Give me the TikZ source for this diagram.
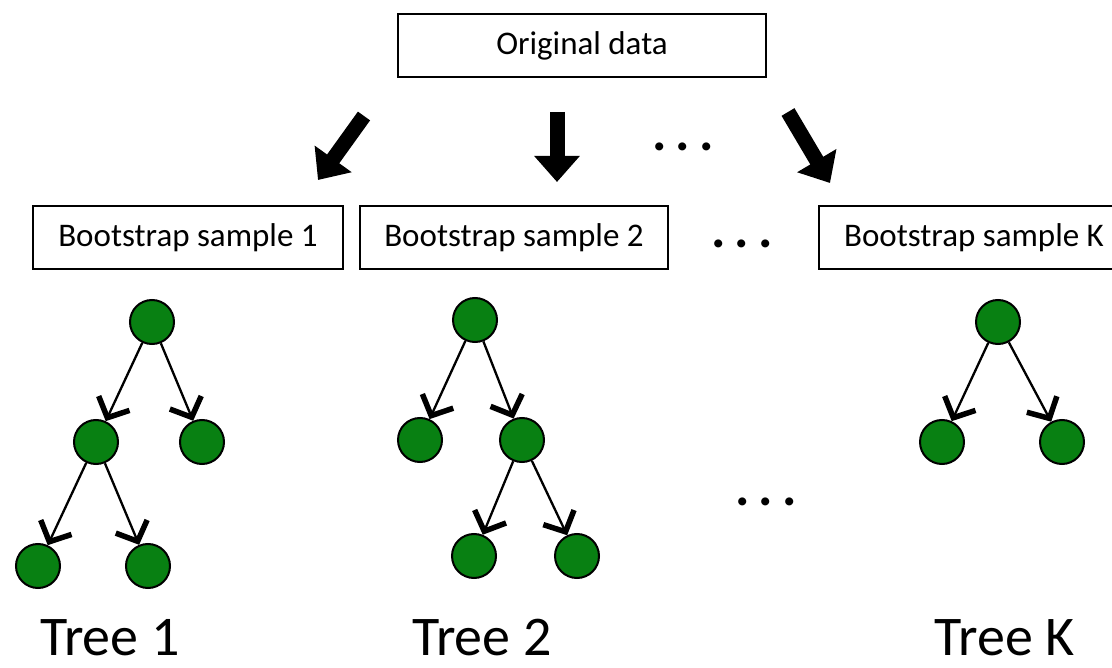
\documentclass[tikz,border=0pt]{standalone}
\usepackage{fontspec}
\setmainfont{Carlito}
\usetikzlibrary{arrows.meta}
\definecolor{nodegreen}{RGB}{8,128,18}
\tikzset{
  databox/.style={draw=black, line width=2pt, minimum height=63pt, inner sep=0pt, font=\fontsize{33}{38}\selectfont},
  tnode/.style={circle, draw=black, line width=2pt, fill=nodegreen, minimum size=44pt, inner sep=0pt},
  tedge/.style={line width=2.3pt, -{Straight Barb[length=16pt, width=34pt, line width=5.5pt]}},
  bigarrow/.style={line width=15pt, -{Triangle[length=26pt, width=44pt]}},
  dots/.style={font=\fontsize{54}{54}\selectfont\bfseries, inner sep=0pt},
  treelabel/.style={font=\fontsize{56}{60}\selectfont, inner sep=0pt, anchor=base}
}
\begin{document}
\begin{tikzpicture}[x=1pt, y=-1pt]
\useasboundingbox (0,0) rectangle (1112,668);
% boxes
\node[databox, minimum width=368pt] (orig) at (582,46) {Original data};
\node[databox, minimum width=310pt] (b1) at (188,237.5) {Bootstrap sample 1};
\node[databox, minimum width=308pt] (b2) at (514,237.5) {Bootstrap sample 2};
\node[databox, minimum width=294pt, anchor=west] (bk) at (818,237.5) {\hspace*{16pt}Bootstrap sample K};
% big arrows
\coordinate (a1s) at (364,116); \coordinate (a1e) at (318,180);
\coordinate (a2s) at (557,112); \coordinate (a2e) at (557,182);
\coordinate (a3s) at (788,112); \coordinate (a3e) at (830,183);
\draw[bigarrow] (a1s) -- (a1e);
\draw[bigarrow] (a2s) -- (a2e);
\draw[bigarrow] (a3s) -- (a3e);
% dots
\node[dots] (d1) at (683,147) {.\,.\,.};
\node[dots] (d2) at (742,244) {.\,.\,.};
\node[dots] (d3) at (766,502) {.\,.\,.};
% tree 1
\node[tnode] (t1r) at (152,322) {};
\node[tnode] (t1a) at (96,442) {};
\node[tnode] (t1b) at (202,442) {};
\node[tnode] (t1c) at (38,566) {};
\node[tnode] (t1d) at (148,566) {};
\draw[tedge] (t1r) -- (t1a);
\draw[tedge] (t1r) -- (t1b);
\draw[tedge] (t1a) -- (t1c);
\draw[tedge] (t1a) -- (t1d);
% tree 2
\node[tnode] (t2r) at (475,320) {};
\node[tnode] (t2a) at (420,440) {};
\node[tnode] (t2b) at (522,440) {};
\node[tnode] (t2c) at (474,556) {};
\node[tnode] (t2d) at (577,556) {};
\draw[tedge] (t2r) -- (t2a);
\draw[tedge] (t2r) -- (t2b);
\draw[tedge] (t2b) -- (t2c);
\draw[tedge] (t2b) -- (t2d);
% tree K
\node[tnode] (tkr) at (998,322) {};
\node[tnode] (tka) at (942,442) {};
\node[tnode] (tkb) at (1062,442) {};
\draw[tedge] (tkr) -- (tka);
\draw[tedge] (tkr) -- (tkb);
% labels
\node[treelabel] (l1) at (110,655) {Tree 1};
\node[treelabel] (l2) at (482,655) {Tree 2};
\node[treelabel] (lk) at (1005,655) {Tree K};
\end{tikzpicture}
\end{document}
